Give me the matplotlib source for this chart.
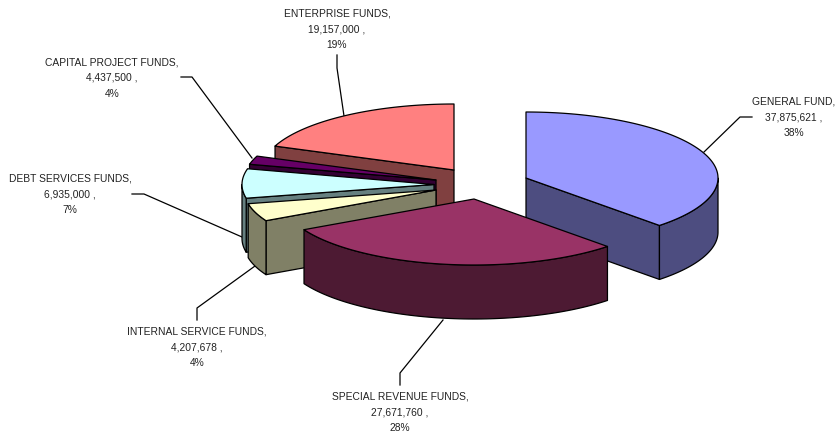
import numpy as np
import matplotlib
import matplotlib.pyplot as plt
from matplotlib.patches import Polygon

matplotlib.use('Agg')
plt.rcParams['font.family'] = ['Liberation Sans', 'DejaVu Sans']

names = ["GENERAL FUND", "SPECIAL REVENUE FUNDS", "INTERNAL SERVICE FUNDS",
         "DEBT SERVICES FUNDS", "CAPITAL PROJECT FUNDS", "ENTERPRISE FUNDS"]
values = [37875621, 27671760, 4207678, 6935000, 4437500, 19157000]
top_colors = ['#9999FF', '#993366', '#FFFFCC', '#CCFFFF', '#660066', '#FF8080']
wall_colors = ['#4D4D80', '#4D1A33', '#808066', '#668080', '#330033', '#804040']

# layout in pixels of the 835x436 picture
RX, RY, DEPTH = 192, 66, 54
apex = [(526, 178), (474, 199), (436, 190), (434, 184.5), (436, 180), (454, 170)]
# the old 3D view squeezes the slices a bit, boundaries moved by hand (degrees)
view_shift = [0, 0, 7, 7.6, 8.5, 0, 0]
draw_order = [5, 4, 3, 2, 0, 1]
label_pos = [(794, 117), (400, 412), (197, 347), (70, 194), (112, 78), (337, 29)]
leaders = [
    [(704, 152), (740, 117), (752, 117)],
    [(443, 320), (400, 373), (400, 385)],
    [(255, 266), (197, 308), (197, 320)],
    [(242, 237), (144, 194), (132, 194)],
    [(252, 158), (192, 77), (181, 77)],
    [(344, 116), (337, 68), (337, 55)],
]

fig = plt.figure(figsize=(8.35, 4.36), dpi=100)
ax = fig.add_axes([0, 0, 1, 1])
ax.set_xlim(0, 835)
ax.set_ylim(436, 0)
ax.axis('off')

total = sum(values)
bounds = np.cumsum([0] + values) / total * 360 + np.array(view_shift)


def rim(center, a):
    # a is clockwise from 12 o'clock, in degrees
    r = np.radians(a)
    return np.column_stack([center[0] + RX * np.sin(r), center[1] - RY * np.cos(r)])


def face(points, color, z):
    ax.add_patch(Polygon(points, closed=True, facecolor=color, edgecolor='black',
                         linewidth=0.9, joinstyle='round', zorder=z))


def cut_wall(center, a, color, z):
    corner = rim(center, np.array([a]))[0]
    face([center, corner, corner + (0, DEPTH), (center[0], center[1] + DEPTH)], color, z)


for z, i in enumerate(draw_order):
    start, end = bounds[i], bounds[i + 1]
    c = apex[i]
    # walls that face the viewer come first, then the top
    if np.sin(np.radians(start)) < -1e-9:
        cut_wall(c, start, wall_colors[i], z + 1)
    if np.sin(np.radians(end)) > 1e-9:
        cut_wall(c, end, wall_colors[i], z + 1)
    lo, hi = max(start, 90), min(end, 270)
    if hi > lo:
        arc = rim(c, np.linspace(lo, hi, 80))
        face(np.vstack([arc, (arc + (0, DEPTH))[::-1]]), wall_colors[i], z + 1)
    top = rim(c, np.linspace(start, end, 120))
    face(np.vstack([c, top]), top_colors[i], z + 1)

for line in leaders:
    xs, ys = zip(*line)
    ax.plot(xs, ys, color='black', linewidth=0.9, zorder=0.5)

for name, v, pos in zip(names, values, label_pos):
    pct = round(v / total * 100)
    ax.text(pos[0], pos[1], f"{name},\n{v:,} ,\n{pct}%", ha='center', va='center',
            fontsize=7.35, color='#222222', linespacing=1.74)

fig.savefig('out.png', dpi=100, facecolor='white')
